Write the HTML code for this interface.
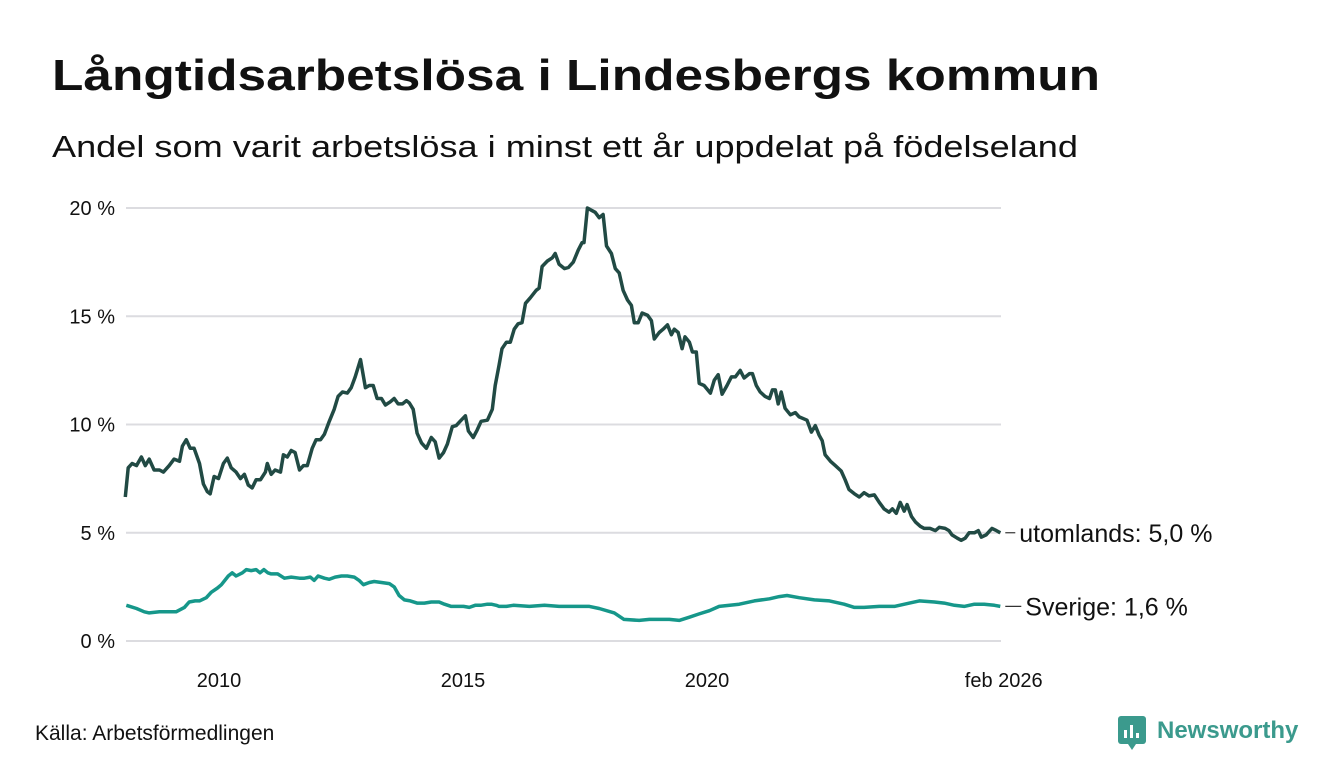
<!DOCTYPE html>
<html><head><meta charset="utf-8"><style>
html,body{margin:0;padding:0;background:#fff;}
svg{display:block;font-family:"Liberation Sans","DejaVu Sans",sans-serif;}
</style></head><body>
<svg id="chart" width="1340" height="780" viewBox="0 0 1340 780">
<text x="52" y="90" font-size="44" font-weight="bold" fill="#111" textLength="1048" lengthAdjust="spacingAndGlyphs">Långtidsarbetslösa i Lindesbergs kommun</text>
<text x="52" y="157" font-size="31" fill="#111" textLength="1026" lengthAdjust="spacingAndGlyphs">Andel som varit arbetslösa i minst ett år uppdelat på födelseland</text>
<g id="grid"></g>
<g id="yticks"></g>
<g id="xticks"></g>
<g id="lines"></g>
<g id="labels"></g>
<text x="35" y="740" font-size="21" fill="#111">Källa: Arbetsförmedlingen</text>
<g>
<rect x="1118" y="716" width="28" height="28" rx="3" fill="#3b9a8d"/>
<rect x="1124" y="730" width="3" height="8" fill="#fff"/><rect x="1130" y="725" width="3" height="13" fill="#fff"/><rect x="1136" y="733" width="3" height="5" fill="#fff"/>
<path d="M1128 744 L1132 750 L1136 744 Z" fill="#3b9a8d"/>
<text x="1157" y="738" font-size="24" font-weight="bold" fill="#3b9a8d">Newsworthy</text>
</g>
</svg>
<script>
const yTicks=[0,5,10,15,20];
const yTickLabels=["0 %","5 %","10 %","15 %","20 %"];
const xTicks=[2010,2015,2020,2026.08];
const xTickLabels=["2010","2015","2020","feb 2026"];
const utomlandsDates=[2008.08,2008.14,2008.22,2008.31,2008.41,2008.49,2008.57,2008.67,2008.78,2008.86,2008.98,2009.08,2009.19,2009.25,2009.33,2009.41,2009.49,2009.60,2009.68,2009.76,2009.82,2009.90,2009.99,2010.09,2010.17,2010.25,2010.35,2010.44,2010.52,2010.60,2010.68,2010.76,2010.85,2010.95,2010.99,2011.07,2011.15,2011.26,2011.32,2011.40,2011.48,2011.56,2011.65,2011.73,2011.81,2011.91,2011.99,2012.08,2012.16,2012.26,2012.36,2012.44,2012.53,2012.63,2012.71,2012.79,2012.90,2013.00,2013.08,2013.16,2013.24,2013.33,2013.41,2013.51,2013.59,2013.67,2013.76,2013.84,2013.90,2013.98,2014.06,2014.15,2014.25,2014.35,2014.43,2014.51,2014.60,2014.68,2014.78,2014.86,2014.94,2015.05,2015.11,2015.21,2015.29,2015.37,2015.50,2015.60,2015.66,2015.74,2015.80,2015.89,2015.97,2016.05,2016.13,2016.21,2016.28,2016.38,2016.50,2016.56,2016.62,2016.73,2016.83,2016.89,2016.97,2017.08,2017.16,2017.26,2017.36,2017.44,2017.48,2017.55,2017.63,2017.71,2017.79,2017.87,2017.94,2018.04,2018.12,2018.20,2018.28,2018.37,2018.45,2018.51,2018.59,2018.67,2018.78,2018.86,2018.92,2019.02,2019.10,2019.19,2019.27,2019.33,2019.41,2019.49,2019.55,2019.64,2019.70,2019.78,2019.84,2019.94,2020.07,2020.15,2020.23,2020.31,2020.41,2020.50,2020.58,2020.68,2020.76,2020.87,2020.93,2021.01,2021.09,2021.19,2021.28,2021.34,2021.40,2021.46,2021.52,2021.60,2021.71,2021.81,2021.89,2022.05,2022.14,2022.22,2022.30,2022.36,2022.42,2022.53,2022.63,2022.75,2022.83,2022.91,2023.02,2023.12,2023.22,2023.32,2023.43,2023.53,2023.63,2023.73,2023.80,2023.88,2023.96,2024.04,2024.10,2024.19,2024.27,2024.37,2024.45,2024.57,2024.68,2024.76,2024.88,2024.96,2025.02,2025.13,2025.21,2025.29,2025.37,2025.48,2025.56,2025.62,2025.72,2025.80,2025.84,2025.93,2026.01];
const utomlandsValues=[6.65,8.0,8.2,8.1,8.5,8.1,8.4,7.9,7.9,7.8,8.1,8.4,8.3,9.0,9.3,8.9,8.9,8.2,7.25,6.9,6.8,7.6,7.5,8.2,8.45,8.0,7.8,7.5,7.7,7.2,7.07,7.45,7.45,7.8,8.2,7.7,7.9,7.8,8.6,8.5,8.8,8.7,7.9,8.1,8.1,8.9,9.3,9.3,9.55,10.15,10.7,11.3,11.5,11.45,11.7,12.2,13.0,11.7,11.8,11.8,11.2,11.2,10.9,11.05,11.2,10.95,10.95,11.1,11.0,10.7,9.6,9.15,8.9,9.4,9.2,8.45,8.7,9.1,9.9,9.95,10.15,10.4,9.7,9.4,9.75,10.15,10.2,10.7,11.8,12.75,13.5,13.8,13.8,14.4,14.65,14.7,15.6,15.85,16.2,16.3,17.3,17.55,17.7,17.9,17.4,17.2,17.25,17.5,18.05,18.4,18.4,20.0,19.9,19.8,19.55,19.7,18.25,17.9,17.2,17.0,16.2,15.75,15.5,14.7,14.7,15.15,15.05,14.8,13.95,14.25,14.4,14.6,14.15,14.4,14.25,13.5,14.05,13.8,13.35,13.35,11.9,11.8,11.45,12.05,12.3,11.4,11.8,12.2,12.2,12.5,12.15,12.35,12.35,11.8,11.5,11.3,11.2,11.6,11.6,10.95,11.5,10.75,10.45,10.55,10.35,10.2,9.65,9.95,9.5,9.25,8.6,8.3,8.1,7.85,7.45,7.0,6.8,6.65,6.85,6.7,6.75,6.4,6.1,5.95,6.1,5.9,6.4,6.0,6.3,5.75,5.5,5.3,5.2,5.2,5.1,5.25,5.2,5.1,4.9,4.75,4.65,4.75,5.0,5.0,5.1,4.8,4.9,5.1,5.2,5.1,5.0];
const sverigeDates=[2008.10,2008.31,2008.47,2008.57,2008.78,2008.98,2009.12,2009.29,2009.39,2009.51,2009.60,2009.74,2009.84,2009.97,2010.05,2010.19,2010.27,2010.35,2010.48,2010.56,2010.66,2010.76,2010.84,2010.92,2011.00,2011.07,2011.20,2011.34,2011.48,2011.65,2011.75,2011.87,2011.95,2012.03,2012.16,2012.26,2012.38,2012.51,2012.63,2012.77,2012.87,2012.96,2013.08,2013.18,2013.33,2013.49,2013.59,2013.69,2013.80,2013.92,2014.06,2014.21,2014.35,2014.51,2014.62,2014.76,2014.88,2015.01,2015.13,2015.25,2015.36,2015.50,2015.58,2015.68,2015.74,2015.89,2016.03,2016.36,2016.67,2016.97,2017.28,2017.59,2017.79,2018.10,2018.30,2018.61,2018.82,2019.02,2019.23,2019.43,2019.64,2019.84,2020.05,2020.25,2020.66,2020.97,2021.28,2021.48,2021.64,2021.89,2022.20,2022.51,2022.81,2023.02,2023.22,2023.53,2023.84,2024.15,2024.35,2024.66,2024.86,2025.07,2025.27,2025.48,2025.68,2025.89,2026.01];
const sverigeValues=[1.65,1.5,1.35,1.3,1.35,1.35,1.35,1.55,1.8,1.85,1.85,2.0,2.25,2.45,2.6,3.0,3.15,3.0,3.15,3.3,3.25,3.3,3.15,3.3,3.15,3.1,3.1,2.9,2.95,2.9,2.9,2.95,2.8,3.0,2.9,2.85,2.95,3.0,3.0,2.95,2.8,2.6,2.7,2.75,2.7,2.65,2.5,2.1,1.9,1.85,1.75,1.75,1.8,1.8,1.7,1.6,1.6,1.6,1.55,1.65,1.65,1.7,1.7,1.65,1.6,1.6,1.65,1.6,1.65,1.6,1.6,1.6,1.5,1.3,1.0,0.95,1.0,1.0,1.0,0.95,1.1,1.25,1.4,1.6,1.7,1.85,1.95,2.05,2.1,2.0,1.9,1.85,1.7,1.55,1.55,1.6,1.6,1.75,1.85,1.8,1.75,1.65,1.6,1.7,1.7,1.65,1.6];
const seriesNames=["utomlands","Sverige"];
const NS="http://www.w3.org/2000/svg";
const X0=126,X1=1001,Y0=641,Y20=208;
function xs(d){return 219+(d-2010)*48.8;}
function ys(v){return Y0-(v/20)*(Y0-Y20);}
function mk(tag,attrs,parent){const e=document.createElementNS(NS,tag);for(const k in attrs)e.setAttribute(k,attrs[k]);parent.appendChild(e);return e;}
const grid=document.getElementById('grid'),yt=document.getElementById('yticks'),xt=document.getElementById('xticks'),lines=document.getElementById('lines'),labels=document.getElementById('labels');
yTicks.forEach((t,i)=>{
 const l=mk('line',{x1:X0,x2:X1,y1:ys(t),y2:ys(t),stroke:'#dcdce0','stroke-width':2},grid);
 
 
 const tx=mk('text',{x:115,y:ys(t)+7,'text-anchor':'end','font-size':20,fill:'#111'},yt);
 tx.textContent=yTickLabels[i];
 
 
});
xTicks.forEach((t,i)=>{
 const tx=mk('text',{x:xs(t),y:687,'text-anchor':'middle','font-size':20,fill:'#111'},xt);
 tx.textContent=xTickLabels[i];
 
 
});
function drawLine(dates,vals,color,name,label,dx){
 const d=dates.map((t,i)=>(i?'L':'M')+xs(t).toFixed(1)+' '+ys(vals[i]).toFixed(1)).join(' ');
 const p=mk('path',{d:d,fill:'none',stroke:color,'stroke-width':3.5,'stroke-linejoin':'round'},lines);
 
 
 const lx=xs(dates[dates.length-1]),ly=ys(vals[vals.length-1]);
 const c=mk('line',{x1:lx+5,x2:lx+15+dx,y1:ly,y2:ly,stroke:'#333','stroke-width':1.2},labels);
 
 
 const t=mk('text',{x:lx+19+dx,y:ly+9,'font-size':25,fill:'#111'},labels);
 t.textContent=label+': '+vals[vals.length-1].toFixed(1).replace('.',',')+' %';
 
 
}
drawLine(sverigeDates,sverigeValues,'#16978a','sverige',seriesNames[1],6);
drawLine(utomlandsDates,utomlandsValues,'#214a44','utomlands',seriesNames[0],0);
</script>
</body></html>
